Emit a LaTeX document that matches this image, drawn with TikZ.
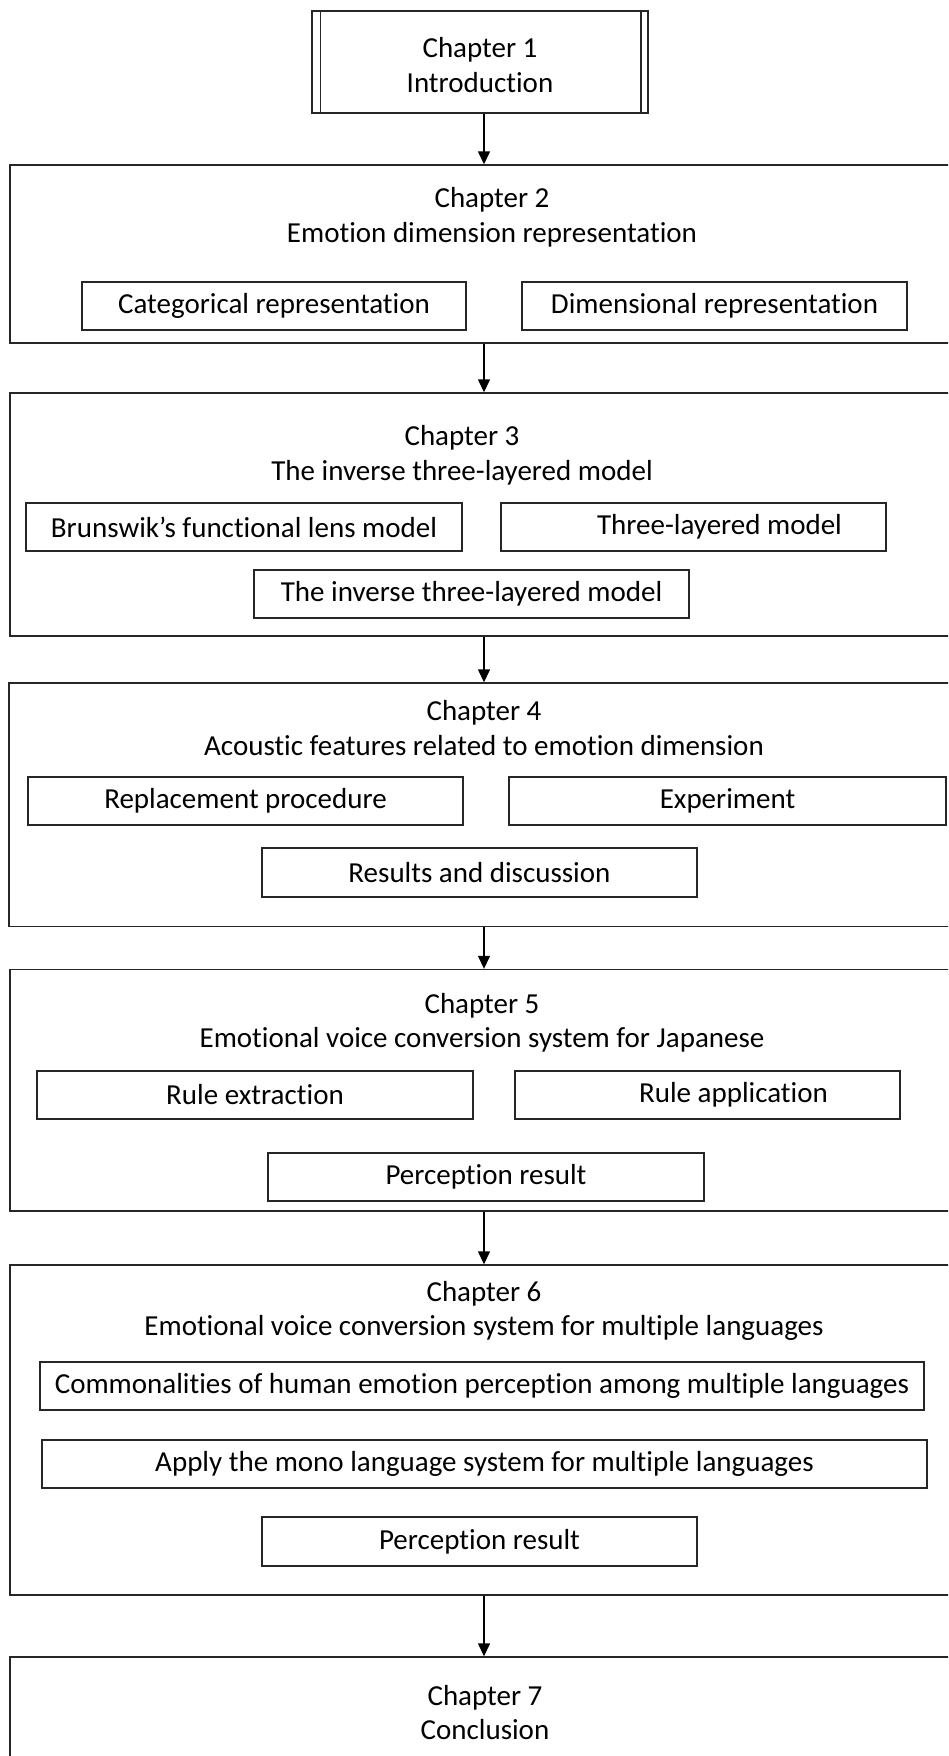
\documentclass[tikz,border=0pt]{standalone}
\usepackage{fontspec}
\setmainfont{Carlito}[Ligatures=NoCommon]
\usetikzlibrary{arrows.meta}
\begin{document}
\begin{tikzpicture}[x=1pt,y=-1pt,
  every node/.style={font=\fontsize{29}{34.5}\selectfont, inner sep=0pt},
  frame/.style={draw=black!85, line width=1.4pt, rectangle},
  chapbox/.style={frame},
  subbox/.style={frame},
  title/.style={align=center, yshift=-3pt},
  link/.style={draw=black, line width=1.4pt, -{Triangle[width=12pt,length=13pt]}}]
\clip (0,0) rectangle (948,1756);
\fill[white] (0,0) rectangle (948,1756);
\coordinate (spine) at (484,0);

% Chapter 1 (box with double side bars)
\node[chapbox, minimum width=336pt, minimum height=102pt] (ch1) at (480,62) {};
\draw[black!85, line width=1.6pt] ([xshift=9pt]ch1.north west) -- ([xshift=9pt]ch1.south west);
\draw[black!85, line width=1.6pt] ([xshift=-8pt]ch1.north east) -- ([xshift=-8pt]ch1.south east);
\node[title] (t1) at (480,62) {Chapter 1\\Introduction};

% Chapter 2
\node[chapbox, minimum width=960pt, minimum height=178pt] (ch2) at (490,254) {};
\node[title] (t2) at (492,214.5) {Chapter 2\\Emotion dimension representation};
\node[subbox, minimum width=384pt, minimum height=48pt] (cat) at (274,306) {Categorical representation};
\node[subbox, minimum width=385pt, minimum height=48pt] (dim) at (714.5,306) {Dimensional representation};

% Chapter 3
\node[chapbox, minimum width=960pt, minimum height=243pt] (ch3) at (490,514.5) {};
\node[title] (t3) at (462,452.5) {Chapter 3\\The inverse three-layered model};
\node[subbox, minimum width=436pt, minimum height=48pt] (brun) at (244,527) {Brunswik’s functional lens model};
\node[subbox, minimum width=385pt, minimum height=48pt] (three) at (693.5,527) {\hspace*{52pt}Three-layered model};
\node[subbox, minimum width=435pt, minimum height=48pt] (inv) at (471.5,594) {The inverse three-layered model};

% Chapter 4
\node[chapbox, minimum width=961pt, minimum height=243.5pt] (ch4) at (489.5,804.75) {};
\node[title] (t4) at (484,725) {Chapter 4\\Acoustic features related to emotion dimension};
\node[subbox, minimum width=435pt, minimum height=48pt] (repl) at (245.5,801) {Replacement procedure};
\node[subbox, minimum width=437pt, minimum height=48pt] (expt) at (727.5,801) {Experiment};
\node[subbox, minimum width=435pt, minimum height=49pt] (res) at (479.5,872.5) {Results and discussion};

% Chapter 5
\node[chapbox, minimum width=960pt, minimum height=241.5pt] (ch5) at (490,1090.25) {};
\node[title] (t5) at (482,1020) {Chapter 5\\Emotional voice conversion system for Japanese};
\node[subbox, minimum width=436pt, minimum height=48pt] (rext) at (255,1095) {Rule extraction};
\node[subbox, minimum width=385pt, minimum height=48pt] (rapp) at (707.5,1095) {\hspace*{52pt}Rule application};
\node[subbox, minimum width=436pt, minimum height=48pt] (perc5) at (486,1177) {Perception result};

% Chapter 6
\node[chapbox, minimum width=960pt, minimum height=330pt] (ch6) at (490,1430) {};
\node[title] (t6) at (484,1308) {Chapter 6\\Emotional voice conversion system for multiple languages};
\node[subbox, minimum width=884pt, minimum height=48pt] (comm) at (482,1386) {Commonalities of human emotion perception among multiple languages};
\node[subbox, minimum width=885pt, minimum height=48pt] (apply) at (484.5,1464) {Apply the mono language system for multiple languages};
\node[subbox, minimum width=435pt, minimum height=49pt] (perc6) at (479.5,1541.5) {Perception result};

% Chapter 7
\node[chapbox, minimum width=960pt, minimum height=143pt] (ch7) at (490,1728.5) {};
\node[title] (t7) at (485,1709.5) {Chapter 7\\Conclusion};

% Flow between chapters
\draw[link] (spine |- ch1.south) -- (spine |- ch2.north);
\draw[link] (spine |- ch2.south) -- (spine |- ch3.north);
\draw[link] (spine |- ch3.south) -- (spine |- ch4.north);
\draw[link] (spine |- ch4.south) -- (spine |- ch5.north);
\draw[link] (spine |- ch5.south) -- (spine |- ch6.north);
\draw[link] (spine |- ch6.south) -- (spine |- ch7.north);
\end{tikzpicture}
\end{document}
